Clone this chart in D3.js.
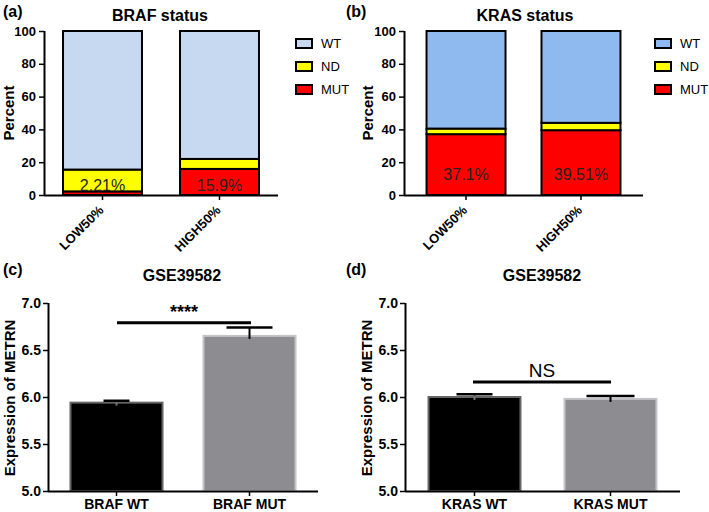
<!DOCTYPE html>
<html><head><meta charset="utf-8">
<script src="https://cdn.jsdelivr.net/npm/d3@7"></script>
<style>body{margin:0;background:#fff}svg{font-family:"Liberation Sans",Arial,sans-serif}</style>
</head><body>
<svg id="c" width="709" height="512"></svg>
<script>
// ---- data ----
const groups = ["LOW50%", "HIGH50%"];
const statusKeys = ["MUT", "ND", "WT"];
const brafMUT = [2.21, 15.9];
const brafND = [13.3, 6.1];
const krasMUT = [37.1, 39.51];
const krasND = [3.4, 4.5];
const pctTicks = [0, 20, 40, 60, 80, 100];

const brafCats = ["BRAF WT", "BRAF MUT"];
const brafMean = [5.94, 6.65];
const brafErr = [0.02, 0.09];
const krasCats = ["KRAS WT", "KRAS MUT"];
const krasMean = [6.00, 5.98];
const krasErr = [0.03, 0.03];
const exprTicks = [5.0, 5.5, 6.0, 6.5, 7.0];

const svg = d3.select("#c");
const FONT = "Liberation Sans, Arial, sans-serif";

function stackedPanel(o) {
  const g = svg.append("g");
  const y = d3.scaleLinear().domain([0, 100]).range([o.bottom, o.top]);
  const x = d3.scaleBand().domain(groups).range([o.left, o.right]).paddingInner(o.pin).paddingOuter(o.pout);
  const rows = groups.map((gname, i) => ({ g: gname, MUT: o.mut[i], ND: o.nd[i], WT: 100 - o.mut[i] - o.nd[i] }));
  const stack = d3.stack().keys(statusKeys)(rows);
  const colors = { MUT: "#ff0000", ND: "#ffff00", WT: o.wt };
  stack.forEach(s => {
    g.selectAll(null).data(s).enter().append("rect")
      .attr("x", d => x(d.data.g)).attr("width", x.bandwidth())
      .attr("y", d => y(d[1])).attr("height", d => y(d[0]) - y(d[1]))
      .attr("fill", colors[s.key]).attr("stroke", "#000").attr("stroke-width", 2);
  });
  g.selectAll(null).data(rows).enter().append("text")
    .attr("x", d => x(d.g) + x.bandwidth() / 2)
    .attr("y", o.labelY)
    .attr("text-anchor", "middle").attr("font-size", 16).attr("fill", "#222")
    .text((d, i) => o.labels[i]);
  const ya = g.append("g").attr("transform", `translate(${o.left},0)`)
    .call(d3.axisLeft(y).tickValues(pctTicks).tickSize(5).tickPadding(3));
  const xa = g.append("g").attr("transform", `translate(0,${o.bottom})`)
    .call(d3.axisBottom(x).tickSize(5).tickFormat(""));
  [ya, xa].forEach(a => {
    a.select(".domain").attr("stroke-width", 2).attr("stroke", "#000");
    a.selectAll(".tick line").attr("stroke-width", 1.5).attr("stroke", "#000");
    a.selectAll("text").attr("font-size", 13).attr("font-weight", "bold").attr("font-family", FONT).attr("fill", "#000");
  });
  xa.select(".domain").attr("d", `M${o.left},0.5H${o.right}`);
  ya.select(".domain").attr("d", `M0.5,${o.top}V${o.bottom}`);
  g.selectAll(null).data(groups).enter().append("text")
    .attr("transform", d => `translate(${x(d) + x.bandwidth() / 2 + 2},${o.bottom + 16}) rotate(-45)`)
    .attr("text-anchor", "end").attr("font-size", 13).attr("font-weight", "bold").text(d => d);
  g.append("text").attr("transform", `translate(${o.ytx},${(o.top + o.bottom) / 2}) rotate(-90)`)
    .attr("text-anchor", "middle").attr("font-size", 15).attr("font-weight", "bold").text("Percent");
  g.append("text").attr("x", o.tx).attr("y", 21).attr("text-anchor", "middle")
    .attr("font-size", 16).attr("font-weight", "bold").text(o.title);
  g.append("text").attr("x", o.px).attr("y", 17).attr("font-size", 16).attr("font-weight", "bold").text(o.panel);
  const leg = ["WT", "ND", "MUT"];
  leg.forEach((k, i) => {
    const ly = 39 + i * 23;
    g.append("rect").attr("x", o.legX).attr("y", ly).attr("width", 16).attr("height", 9)
      .attr("fill", colors[k]).attr("stroke", "#000").attr("stroke-width", 2);
    g.append("text").attr("x", o.legX + 25).attr("y", ly + 9).attr("font-size", 13).text(k);
  });
}

stackedPanel({ left: 44, right: 278, top: 31, bottom: 195, pin: 0.325, pout: 0.1625,
  mut: brafMUT, nd: brafND, wt: "#c6d9f1", labels: ["2.21%", "15.9%"], labelY: 191,
  ytx: 14, tx: 160, title: "BRAF status", px: 3, panel: "(a)", legX: 296 });
stackedPanel({ left: 404, right: 643, top: 31, bottom: 195, pin: 0.313, pout: 0.196,
  mut: krasMUT, nd: krasND, wt: "#8fbaf0", labels: ["37.1%", "39.51%"], labelY: 180,
  ytx: 373, tx: 525, title: "KRAS status", px: 346, panel: "(b)", legX: 655 });

function exprPanel(o) {
  const g = svg.append("g");
  const y = d3.scaleLinear().domain([5, 7]).range([491, 303]);
  const x = d3.scaleBand().domain(o.cats).range([o.left, o.right]).paddingInner(o.pin).paddingOuter(o.pout);
  const fills = ["#000000", "#8c8c91"], strokes = ["#666", "#c4c4c8"];
  g.selectAll(null).data(o.cats).enter().append("rect")
    .attr("x", d => x(d)).attr("width", x.bandwidth())
    .attr("y", (d, i) => y(o.mean[i])).attr("height", (d, i) => y(5) - y(o.mean[i]))
    .attr("fill", (d, i) => fills[i]).attr("stroke", (d, i) => strokes[i]).attr("stroke-width", 2);
  o.cats.forEach((c, i) => {
    const cx = x(c) + x.bandwidth() / 2;
    const hw = o.capW[i] / 2;
    g.append("line").attr("x1", cx).attr("x2", cx).attr("y1", y(o.mean[i]) + 3).attr("y2", y(o.mean[i] + o.err[i]))
      .attr("stroke", i === 0 ? "#777" : "#000").attr("stroke-width", 2);
    g.append("line").attr("x1", cx - hw).attr("x2", cx + hw).attr("y1", y(o.mean[i] + o.err[i])).attr("y2", y(o.mean[i] + o.err[i]))
      .attr("stroke", "#000").attr("stroke-width", 2.5);
  });
  g.append("line").attr("x1", o.sig[0]).attr("x2", o.sig[1]).attr("y1", y(o.sigV)).attr("y2", y(o.sigV))
    .attr("stroke", "#000").attr("stroke-width", 3);
  g.append("text").attr("x", (o.sig[0] + o.sig[1]) / 2).attr("y", y(o.sigV) - o.sigOff)
    .attr("text-anchor", "middle").attr("font-size", o.sigSize).attr("font-weight", o.sigW).text(o.sigText);
  const ya = g.append("g").attr("transform", `translate(${o.left},0)`)
    .call(d3.axisLeft(y).tickValues(exprTicks).tickFormat(d3.format(".1f")).tickSize(5).tickPadding(2));
  const xa = g.append("g").attr("transform", `translate(0,491)`)
    .call(d3.axisBottom(x).tickSize(5).tickPadding(3));
  [ya, xa].forEach(a => {
    a.select(".domain").attr("stroke-width", 2).attr("stroke", "#000");
    a.selectAll(".tick line").attr("stroke-width", 1.5).attr("stroke", "#000");
    a.selectAll("text").attr("font-size", 14).attr("font-weight", "bold").attr("font-family", FONT).attr("fill", "#000");
  });
  xa.select(".domain").attr("d", `M${o.left},0.5H${o.right}`);
  ya.select(".domain").attr("d", `M0.5,303V491`);
  g.append("text").attr("transform", `translate(${o.ytx},398) rotate(-90)`)
    .attr("text-anchor", "middle").attr("font-size", 15).attr("font-weight", "bold").text("Expression of METRN");
  g.append("text").attr("x", o.tx).attr("y", 281).attr("text-anchor", "middle")
    .attr("font-size", 16).attr("font-weight", "bold").text("GSE39582");
  g.append("text").attr("x", o.px).attr("y", 275).attr("font-size", 16).attr("font-weight", "bold").text(o.panel);
}

exprPanel({ left: 48, right: 318, pin: 0.308, pout: 0.169, cats: brafCats, mean: brafMean, err: brafErr,
  capW: [26, 46], sig: [117, 251], sigV: 6.79, sigOff: 5, sigText: "****", sigSize: 18, sigW: "bold",
  ytx: 15, tx: 182, px: 3, panel: "(c)" });
exprPanel({ left: 405, right: 680, pin: 0.324, pout: 0.173, cats: krasCats, mean: krasMean, err: krasErr,
  capW: [36, 48], sig: [473, 611], sigV: 6.16, sigOff: 5, sigText: "NS", sigSize: 19, sigW: "normal",
  ytx: 372, tx: 542, px: 346, panel: "(d)" });
</script>
</body></html>
